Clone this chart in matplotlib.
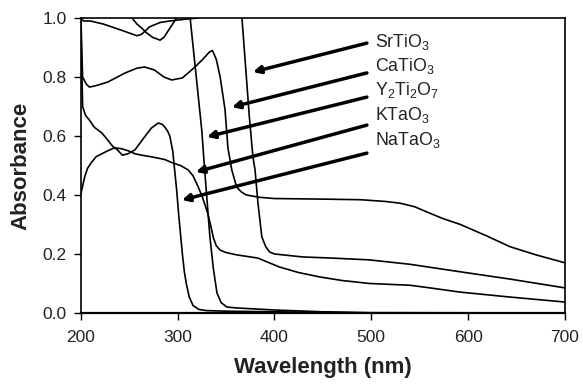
import matplotlib
matplotlib.use("Agg")
import matplotlib.pyplot as plt

plt.rcParams['font.family'] = ['Liberation Sans', 'DejaVu Sans']
plt.rcParams['mathtext.fontset'] = 'custom'
plt.rcParams['mathtext.rm'] = 'Liberation Sans'
plt.rcParams['mathtext.default'] = 'regular'

# ---- data (wavelength nm, absorbance) ----
srtio3_x = [200, 203, 210, 223, 241, 258, 263, 271, 282, 292, 305, 320, 335, 350, 362,
            366.5, 370.6, 374, 377.8, 380, 383, 387, 391, 395, 400, 429, 460, 498, 540, 591, 643, 700]
srtio3_y = [1.0, 0.99, 0.99, 0.98, 0.96, 0.94, 0.945, 0.97, 0.985, 0.99, 0.995, 1.0, 1.02, 1.03, 1.03,
            1.0, 0.82, 0.67, 0.53, 0.485, 0.373, 0.258, 0.225, 0.207, 0.2, 0.19, 0.186, 0.18, 0.165, 0.14, 0.115, 0.085]

catio3_x = [200, 201, 202, 206, 209, 215, 228, 246, 258, 266, 276, 286, 294, 305, 318, 326, 333, 336,
            340, 344, 349, 352, 356, 361, 366, 371, 385, 400, 450, 489, 515, 530, 545, 557, 574, 592,
            620, 643, 670, 700]
catio3_y = [1.05, 0.9, 0.8, 0.775, 0.766, 0.77, 0.783, 0.814, 0.83, 0.834, 0.824, 0.80, 0.79, 0.797, 0.834,
            0.86, 0.885, 0.89, 0.86, 0.80, 0.69, 0.56, 0.485, 0.427, 0.41, 0.40, 0.392, 0.388, 0.386, 0.384,
            0.378, 0.372, 0.36, 0.343, 0.32, 0.30, 0.26, 0.225, 0.197, 0.17]

y2ti2o7_x = [200, 250, 253, 258, 263, 268, 274, 282, 286, 289, 294, 299, 305, 310, 313, 325, 328,
             333.4, 337, 340.7, 345, 351, 361, 400, 450, 500, 700]
y2ti2o7_y = [1.05, 1.03, 1.0, 0.98, 0.966, 0.95, 0.935, 0.925, 0.935, 0.95, 0.975, 1.0, 1.03, 1.03, 1.0,
             0.62, 0.485, 0.258, 0.15, 0.068, 0.035, 0.02, 0.017, 0.01, 0.004, 0.001, 0.0]

ktao3_x = [200, 202, 204, 207, 211, 216, 222, 228, 235, 242, 249, 256, 263, 272, 280, 287, 294, 303,
           311, 316, 321, 326, 331, 334, 337, 340, 344, 350, 361, 383, 405, 425, 447, 470, 498, 540,
           565, 591, 643, 700]
ktao3_y = [0.40, 0.43, 0.46, 0.49, 0.51, 0.53, 0.54, 0.55, 0.56, 0.557, 0.55, 0.54, 0.535, 0.53, 0.525,
           0.52, 0.51, 0.50, 0.485, 0.465, 0.43, 0.39, 0.34, 0.30, 0.255, 0.228, 0.213, 0.205, 0.197,
           0.186, 0.156, 0.137, 0.122, 0.11, 0.10, 0.094, 0.083, 0.071, 0.054, 0.037]

natao3_x = [200, 201, 202, 205, 209, 214, 222, 228, 233, 238, 243, 249, 256, 261, 266, 273, 280, 284,
            287, 290, 292, 295, 297, 299, 301, 303, 305, 307, 309, 312, 316, 322, 330, 350, 400, 450, 500, 700]
natao3_y = [1.05, 0.85, 0.70, 0.67, 0.654, 0.63, 0.61, 0.586, 0.565, 0.553, 0.535, 0.54, 0.553, 0.575,
            0.597, 0.627, 0.644, 0.64, 0.63, 0.615, 0.60, 0.55, 0.485, 0.42, 0.34, 0.27, 0.20, 0.14, 0.10,
            0.055, 0.025, 0.012, 0.008, 0.006, 0.004, 0.002, 0.0, 0.0]

labels = ['SrTiO$_3$', 'CaTiO$_3$', 'Y$_2$Ti$_2$O$_7$', 'KTaO$_3$', 'NaTaO$_3$']
label_y = [0.919, 0.837, 0.756, 0.671, 0.586]
arrow_tail_y = [0.915, 0.814, 0.732, 0.637, 0.542]
arrow_tip = [(377.8, 0.817), (356.1, 0.698), (330.3, 0.597), (318.9, 0.478), (304.5, 0.383)]
label_x = 503.7
tail_x = 495.5

xticks = [200, 300, 400, 500, 600, 700]
yticks = [0.0, 0.2, 0.4, 0.6, 0.8, 1.0]

fig = plt.figure(figsize=(5.83, 3.84), dpi=100)
ax = fig.add_axes([0.1384, 0.185, 0.9691 - 0.1384, 0.953 - 0.185])

for xs, ys in [(srtio3_x, srtio3_y), (catio3_x, catio3_y), (y2ti2o7_x, y2ti2o7_y),
               (ktao3_x, ktao3_y), (natao3_x, natao3_y)]:
    ax.plot(xs, ys, color='black', lw=1.2)

txtc = '#222222'
for lab, ly, ty, tip in zip(labels, label_y, arrow_tail_y, arrow_tip):
    ax.text(label_x, ly, lab, fontsize=12.8, color=txtc, ha='left', va='center')
    ax.annotate('', xy=tip, xytext=(tail_x, ty),
                arrowprops=dict(arrowstyle='-|>', lw=2.5, color='black',
                                mutation_scale=11, shrinkA=0, shrinkB=0))

ax.set_xlim(200, 700)
ax.set_ylim(0, 1.0)
ax.set_xticks(xticks)
ax.set_yticks(yticks)
ax.set_xticklabels([str(v) for v in xticks])
ax.set_yticklabels([f'{v:.1f}' for v in yticks])
ax.tick_params(direction='out', length=5, width=1.0, labelsize=12.5, colors='black',
               labelcolor=txtc)
ax.tick_params(axis='x', pad=7)
ax.tick_params(axis='y', pad=5)
for s in ax.spines.values():
    s.set_linewidth(1.2)
ax.spines['bottom'].set_linewidth(1.6)
ax.set_xlabel('Wavelength (nm)', fontsize=16, fontweight='bold', color=txtc, labelpad=9)
ax.set_ylabel('Absorbance', fontsize=16, fontweight='bold', color=txtc, labelpad=8)

fig.savefig('out.png', dpi=100)
